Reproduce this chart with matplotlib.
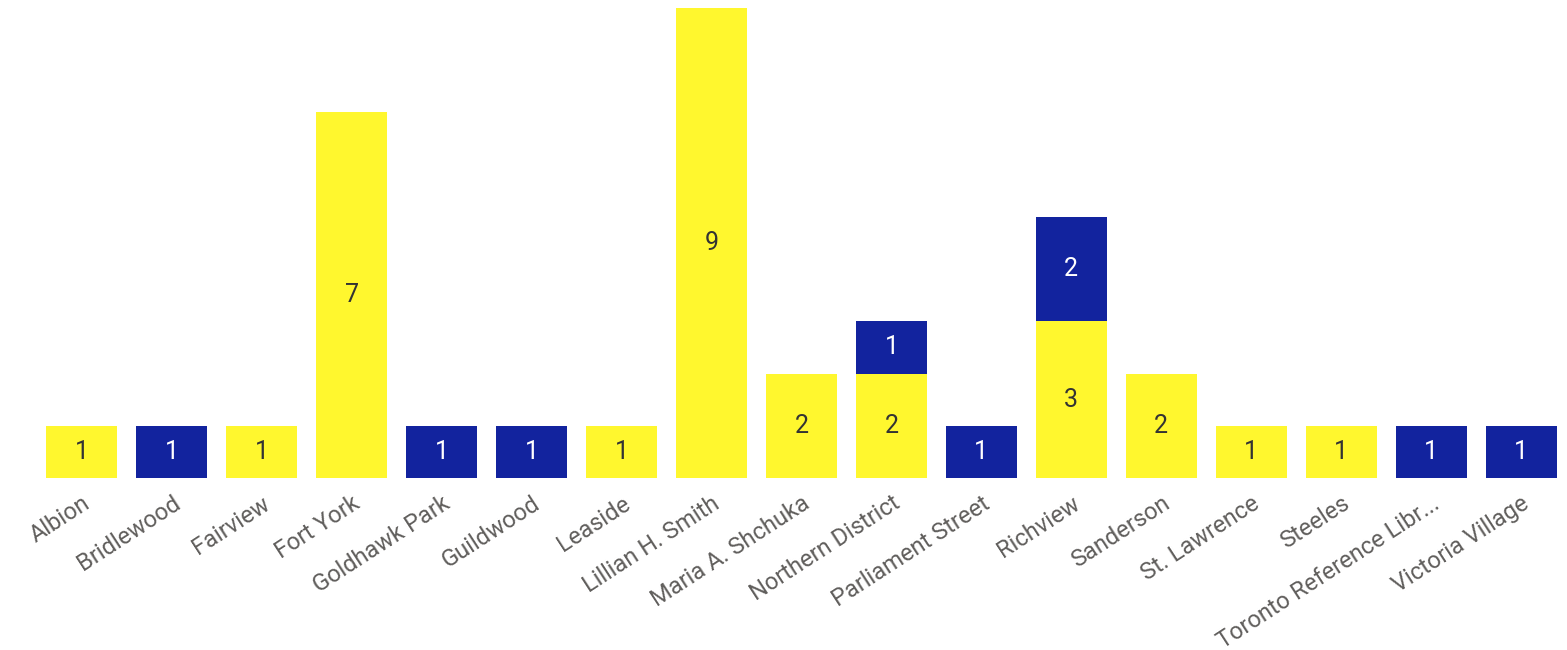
import matplotlib
matplotlib.use('Agg')
from matplotlib import pyplot as plt
import numpy as np

plt.rcParams['font.family'] = ['Roboto', 'DejaVu Sans']

branches = ['Albion', 'Bridlewood', 'Fairview', 'Fort York', 'Goldhawk Park', 'Guildwood',
            'Leaside', 'Lillian H. Smith', 'Maria A. Shchuka', 'Northern District',
            'Parliament Street', 'Richview', 'Sanderson', 'St. Lawrence', 'Steeles',
            'Toronto Reference Libr...', 'Victoria Village']
yellow_vals = [1, 0, 1, 7, 0, 0, 1, 9, 2, 2, 0, 3, 2, 1, 1, 0, 0]
blue_vals = [0, 1, 0, 0, 1, 1, 0, 0, 0, 1, 1, 2, 0, 0, 0, 1, 1]

YELLOW = '#FFF72E'
BLUE = '#12239E'

fig = plt.figure(figsize=(15.67, 6.5), dpi=100)
ax = fig.add_axes([37 / 1567, 172 / 650, 1529 / 1567, 470 / 650])

x = np.arange(len(branches))
yv = np.array(yellow_vals)
bv = np.array(blue_vals)
ax.bar(x, yv, width=0.79, color=YELLOW)
ax.bar(x, bv, width=0.79, bottom=yv, color=BLUE)

for i in range(len(branches)):
    if yv[i] > 0:
        ax.text(x[i], yv[i] / 2, str(yv[i]), ha='center', va='center',
                fontsize=18, color='#333333')
    if bv[i] > 0:
        ax.text(x[i], yv[i] + bv[i] / 2, str(bv[i]), ha='center', va='center',
                fontsize=18, color='white')

ax.set_xlim(-0.5, len(branches) - 0.5)
ax.set_ylim(0, 9)
ax.set_xticks(x)
ax.set_xticklabels(branches, rotation=33, ha='right', rotation_mode='anchor',
                   fontsize=17, color='#605E5C')
ax.tick_params(axis='x', length=0, pad=10)
ax.set_yticks([])
for s in ax.spines.values():
    s.set_visible(False)

plt.savefig('out.png', dpi=100)
